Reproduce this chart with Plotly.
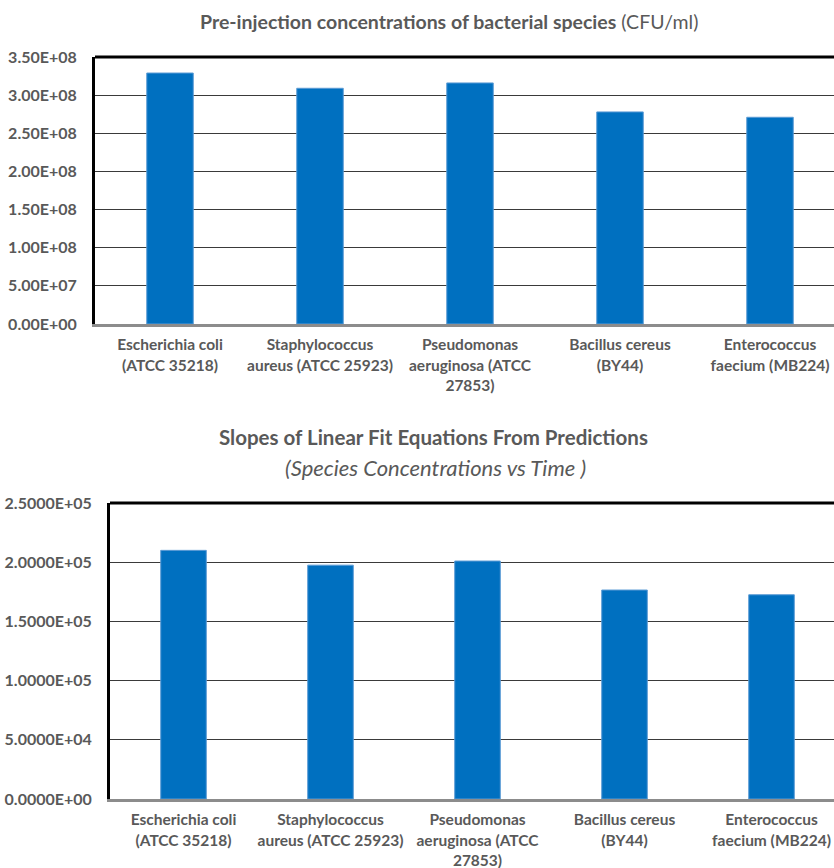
import plotly.graph_objects as go

# Species (category axis labels, wrapped as in the report layout)
species = [
    "Escherichia coli<br>(ATCC 35218)",
    "Staphylococcus<br>aureus (ATCC 25923)",
    "Pseudomonas<br>aeruginosa (ATCC<br>27853)",
    "Bacillus cereus<br>(BY44)",
    "Enterococcus<br>faecium (MB224)",
]

# Pre-injection concentrations (CFU/ml)
pre_injection = [3.29e8, 3.09e8, 3.16e8, 2.78e8, 2.71e8]

# Slopes of linear fits (species concentration vs time)
slopes = [2.10e5, 1.975e5, 2.01e5, 1.765e5, 1.725e5]

# Y tick values and their labels
conc_ticks = [0, 5e7, 1e8, 1.5e8, 2e8, 2.5e8, 3e8, 3.5e8]
conc_ticktext = ["0.00E+00", "5.00E+07", "1.00E+08", "1.50E+08",
                 "2.00E+08", "2.50E+08", "3.00E+08", "3.50E+08"]
slope_ticks = [0, 5e4, 1e5, 1.5e5, 2e5, 2.5e5]
slope_ticktext = ["0.0000E+00", "5.0000E+04", "1.0000E+05",
                  "1.5000E+05", "2.0000E+05", "2.5000E+05"]

W, H = 834, 868
FONT = "Lato"
GREY = "#595959"
BAR = "#0070C0"

fig = go.Figure()
fig.add_trace(go.Bar(x=list(range(len(species))), y=pre_injection,
                     marker=dict(color=BAR, line=dict(color="#5B9BD5", width=1)),
                     width=0.31, xaxis="x", yaxis="y", showlegend=False))
fig.add_trace(go.Bar(x=list(range(len(species))), y=slopes,
                     marker=dict(color=BAR, line=dict(color="#5B9BD5", width=1)),
                     width=0.31, xaxis="x2", yaxis="y2", showlegend=False))

def px_x(v):
    return v / W

def px_y(v):
    return 1 - v / H

# plot frames (pixel positions of each panel)
top_l, top_t, top_b = 95, 57, 324
bot_l, bot_t, bot_b = 110, 503, 799
top_step = 150
bot_step = 147
right_edge = 845  # panels continue past the page edge

xtick_font = dict(family=FONT, size=15.5, color=GREY, weight="bold")
ytick_font = dict(family=FONT, size=16, color=GREY, weight="bold")

common_x = dict(
    tickmode="array", tickvals=list(range(len(species))), ticktext=species,
    showgrid=False, zeroline=False, showline=True, linecolor="#8c8c8c",
    linewidth=2.5, ticks="outside", ticklen=5, tickcolor="rgba(0,0,0,0)",
    tickfont=xtick_font, fixedrange=True, automargin=False,
)
common_y = dict(
    tickmode="array", showgrid=True, gridcolor="#3a3a3a", gridwidth=1.4,
    zeroline=False, showline=True, linecolor="#000000", linewidth=3,
    ticks="outside", ticklen=12, tickcolor="rgba(0,0,0,0)",
    tickfont=ytick_font, fixedrange=True, automargin=False,
)

fig.update_layout(
    template="none",
    width=W, height=H,
    margin=dict(l=0, r=0, t=0, b=0, autoexpand=False),
    paper_bgcolor="white", plot_bgcolor="white",
    font=dict(family=FONT, color=GREY),
    xaxis=dict(domain=[px_x(top_l), 1],
               range=[-0.5, 4.5 - (right_edge - W) / top_step],
               anchor="y", **common_x),
    yaxis=dict(domain=[px_y(top_b), px_y(top_t)], range=[0, 3.5e8],
               tickvals=conc_ticks, ticktext=conc_ticktext,
               anchor="x", **common_y),
    xaxis2=dict(domain=[px_x(bot_l), 1],
                range=[-0.5, 4.5 - (right_edge - W) / bot_step],
                anchor="y2", **common_x),
    yaxis2=dict(domain=[px_y(bot_b), px_y(bot_t)], range=[0, 2.5e5],
                tickvals=slope_ticks, ticktext=slope_ticktext,
                anchor="x2", **common_y),
    bargap=0.69,
)

# top borders of both panels
for xr, yr in (("x domain", "y domain"), ("x2 domain", "y2 domain")):
    fig.add_shape(type="line", xref=xr, yref=yr, x0=0, x1=1, y0=1, y1=1,
                  line=dict(color="#000000", width=3), layer="above")

# titles
fig.add_annotation(
    x=px_x(449), y=px_y(22), xref="paper", yref="paper",
    text="<b>Pre-injection concentrations of bacterial species</b> (CFU/ml)",
    showarrow=False, font=dict(family=FONT, size=19.5, color=GREY),
    xanchor="center", yanchor="middle")
fig.add_annotation(
    x=px_x(433), y=px_y(437), xref="paper", yref="paper",
    text="<b>Slopes of Linear Fit Equations From Predictions</b>",
    showarrow=False, font=dict(family=FONT, size=20.5, color=GREY),
    xanchor="center", yanchor="middle")
fig.add_annotation(
    x=px_x(435), y=px_y(467), xref="paper", yref="paper",
    text="<i>(Species Concentrations vs Time )</i>",
    showarrow=False, font=dict(family=FONT, size=22, color=GREY),
    xanchor="center", yanchor="middle")

fig.write_html("out.html")
